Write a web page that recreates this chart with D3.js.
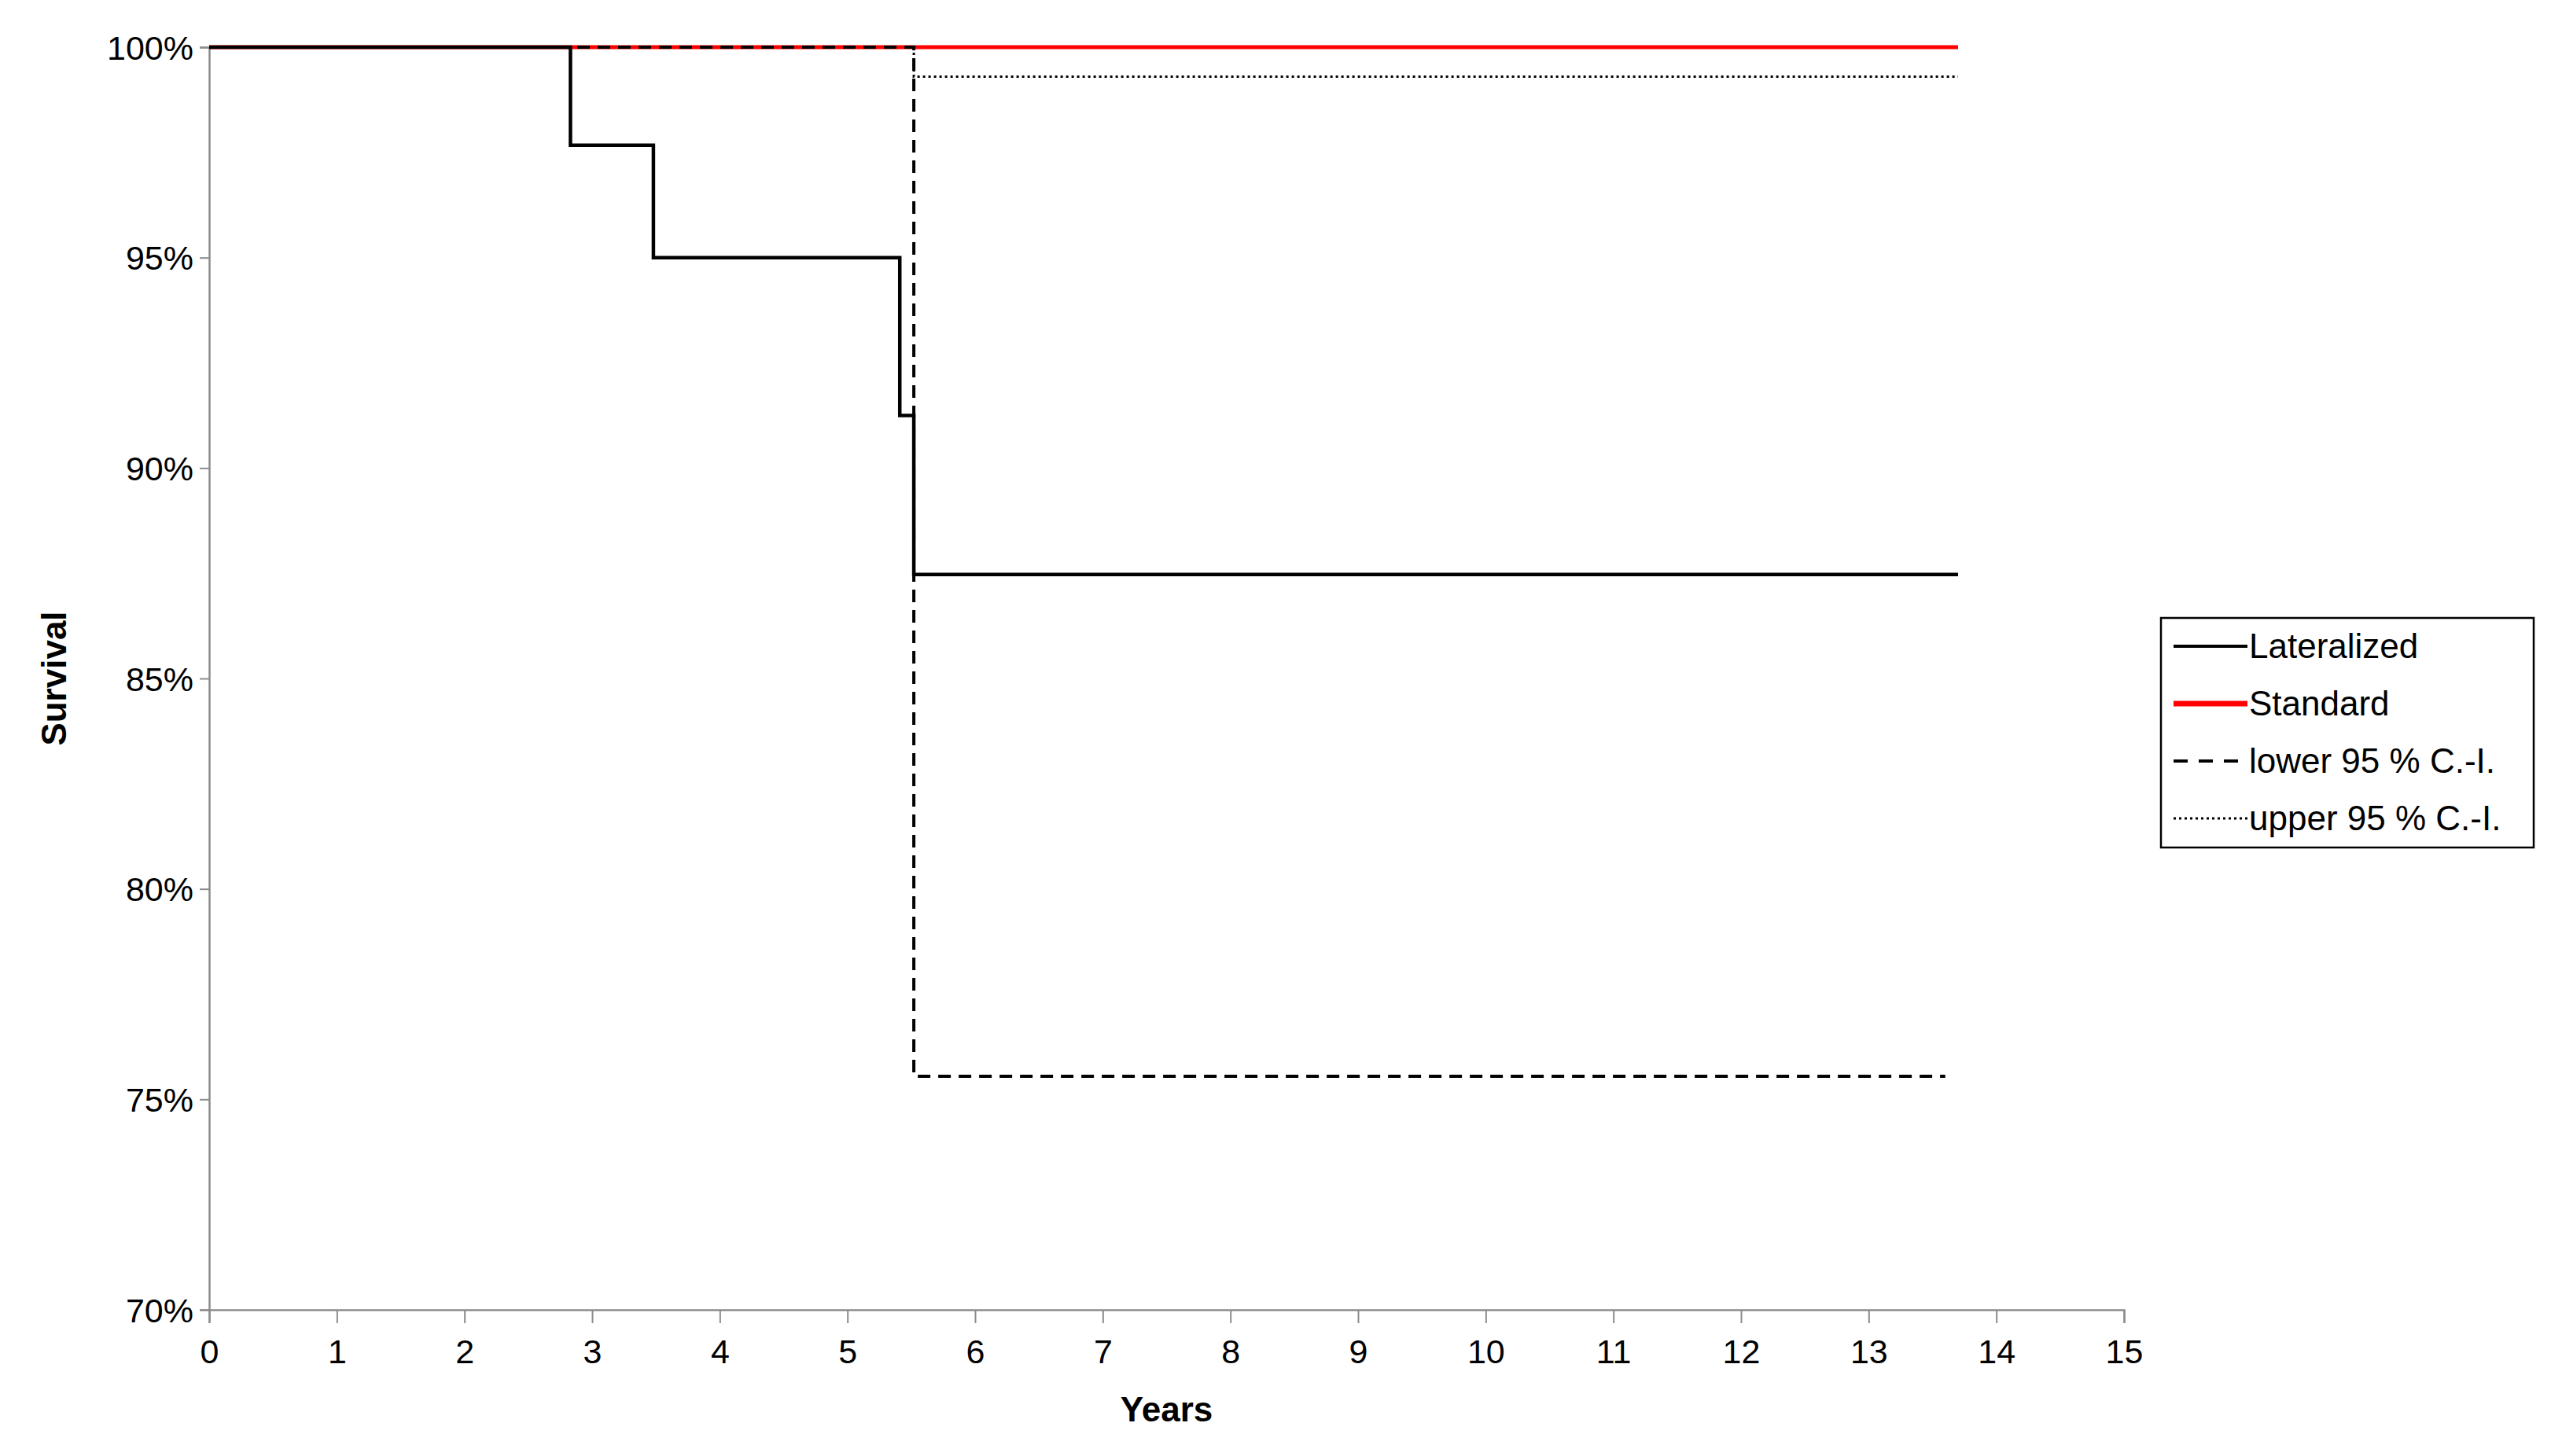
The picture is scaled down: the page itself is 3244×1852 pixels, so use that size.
<!doctype html>
<html lang="en">
<head>
<meta charset="utf-8">
<script src="https://d3js.org/d3.v7.min.js"></script>
<style>
  body { margin: 0; background: #fff; }
  text { font-family: "Liberation Sans", Arial, sans-serif; }
</style>
</head>
<body>
<svg id="chart"></svg>
<script>
// Kaplan-Meier step data: [years, survival %]
const lateralized = [[0, 100], [2.83, 100], [2.83, 97.67], [3.48, 97.67], [3.48, 95.0], [5.41, 95.0], [5.41, 91.25], [5.52, 91.25], [5.52, 87.47], [13.7, 87.47]];
const standard = [[0, 100], [13.7, 100]];
const lowerCI = [[0, 100], [5.52, 100], [5.52, 75.55], [13.6, 75.55]];
const upperCI = [[5.52, 100], [5.52, 99.3], [13.7, 99.3]];
const xTicks = d3.range(0, 16);
const yTicks = [70, 75, 80, 85, 90, 95, 100];
const legendLabels = ["Lateralized", "Standard", "lower 95 % C.-I.", "upper 95 % C.-I."];

const W = 3244, H = 1852;
const m = { left: 266, right: 530 + 13, top: 60, bottom: 186 };
const svg = d3.select("#chart").attr("width", W).attr("height", H);

const x = d3.scaleLinear().domain([0, 15]).range([m.left, W - m.right]);
const y = d3.scaleLinear().domain([70, 100]).range([H - m.bottom, m.top]);

// axes
const xAxis = svg.append("g")
  .attr("transform", `translate(0,${y(70)})`)
  .call(d3.axisBottom(x).tickValues(xTicks).tickSize(17).tickPadding(12));
const yAxis = svg.append("g")
  .attr("transform", `translate(${x(0)},0)`)
  .call(d3.axisLeft(y).tickValues(yTicks).tickFormat(d => d + "%").tickSize(12).tickPadding(8));
[xAxis, yAxis].forEach(g => {
  g.select(".domain").attr("stroke", "#8c8c8c").attr("stroke-width", 2.5);
  g.selectAll(".tick line").attr("stroke", "#8c8c8c").attr("stroke-width", 2);
  g.selectAll(".tick text").attr("font-size", 43).attr("fill", "#000");
});
xAxis.selectAll(".tick text").attr("dy", "0.9em");
yAxis.selectAll(".tick text").attr("dy", "0.35em");

svg.append("text").attr("x", x(7.5)).attr("y", 1808)
  .attr("text-anchor", "middle").attr("font-size", 44).attr("font-weight", "bold").text("Years");
svg.append("text").attr("transform", `translate(84,${y(85)}) rotate(-90)`)
  .attr("text-anchor", "middle").attr("font-size", 44).attr("font-weight", "bold").text("Survival");

const line = d3.line().x(d => x(d[0])).y(d => y(d[1]));
const series = [
  { data: standard, stroke: "#ff0000", width: 5, dash: null },
  { data: lowerCI, stroke: "#000", width: 4, dash: "16,10" },
  { data: upperCI, stroke: "#000", width: 3, dash: "3,4" },
  { data: lateralized, stroke: "#000", width: 4.5, dash: null }
];
series.forEach(s => {
  svg.append("path").datum(s.data).attr("d", line)
    .attr("fill", "none").attr("stroke", s.stroke).attr("stroke-width", s.width)
    .attr("stroke-dasharray", s.dash);
});

// legend
const lg = svg.append("g").attr("transform", "translate(2748,786)");
lg.append("rect").attr("width", 474).attr("height", 292)
  .attr("fill", "#fff").attr("stroke", "#000").attr("stroke-width", 2.5);
const legStyles = [
  { stroke: "#000", width: 4, dash: null },
  { stroke: "#ff0000", width: 7, dash: null },
  { stroke: "#000", width: 4, dash: "18,14" },
  { stroke: "#000", width: 3, dash: "3,4" }
];
legendLabels.forEach((lab, i) => {
  const cy = 36 + i * 73;
  lg.append("line").attr("x1", 16).attr("x2", 110).attr("y1", cy).attr("y2", cy)
    .attr("stroke", legStyles[i].stroke).attr("stroke-width", legStyles[i].width)
    .attr("stroke-dasharray", legStyles[i].dash);
  lg.append("text").attr("x", 112).attr("y", cy).attr("dy", "0.35em")
    .attr("font-size", 44).text(lab);
});
</script>
</body>
</html>
